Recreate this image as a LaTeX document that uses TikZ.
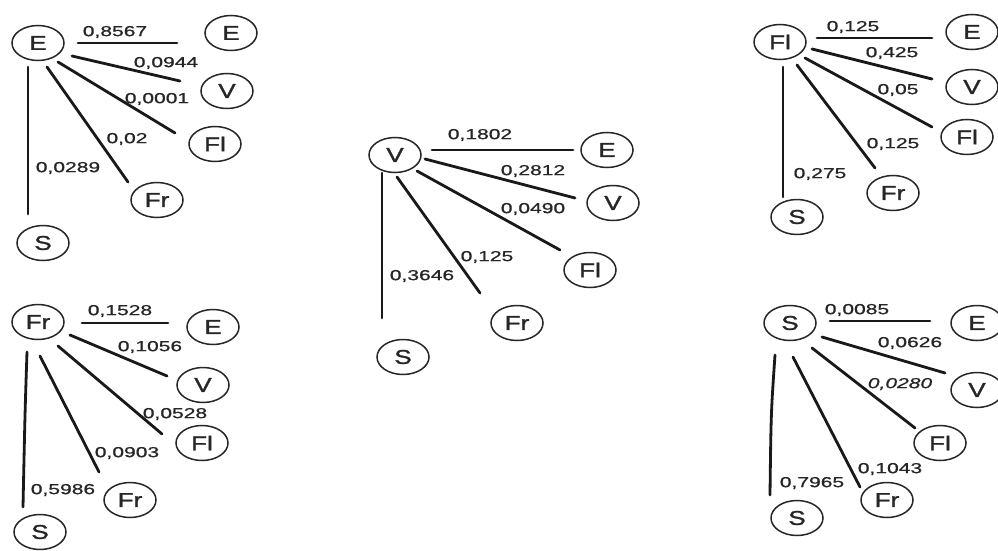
\documentclass[tikz,border=0pt]{standalone}
\usepackage{graphicx}
\usepackage{fontspec}
\setmainfont{Liberation Sans}
\newfontfamily\letfont[FakeBold=1.2]{Liberation Sans}
\newfontfamily\numfont[FakeBold=0.7]{Liberation Sans}
\usetikzlibrary{shapes.geometric}
\newcommand{\wlet}[1]{\scalebox{1.3}[1]{#1}}
\newcommand{\wnum}[1]{\scalebox{1.45}[1]{#1}}
\tikzset{
  st/.style={ellipse, draw=black!85, line width=1.5pt, minimum width=52pt, minimum height=35pt, inner sep=0pt, font=\letfont\fontsize{20}{20}\selectfont, text=black!85},
  conn/.style={draw=black!90, line width=2.8pt, line cap=round},
  lab/.style={inner sep=0pt, font=\numfont\fontsize{14.5}{14.5}\selectfont, text=black!85},
}
\begin{document}
\begin{tikzpicture}[x=1pt,y=-1pt]
\useasboundingbox (0,0) rectangle (998,551);
\fill[white] (0,0) rectangle (998,551);

% ---------- cluster 1 : E ----------
\node[st] (e1)   at (38,43)   {\wlet{E}};
\node[st] (e1E)  at (231,33)  {\wlet{E}};
\node[st] (e1V)  at (227,91)  {\wlet{V}};
\node[st] (e1Fl) at (215,144) {\wlet{Fl}};
\node[st] (e1Fr) at (157,200) {\wlet{Fr}};
\node[st] (e1S)  at (43,243)  {\wlet{S}};
\draw[conn] ([shift={(40,0)}]e1.center)   -- ([shift={(-54,10)}]e1E.center);
\draw[conn] ([shift={(34,13)}]e1.center)  -- ([shift={(-47,-10)}]e1V.center);
\draw[conn] ([shift={(20,19)}]e1.center)  -- ([shift={(-40,-11)}]e1Fl.center);
\draw[conn] ([shift={(9,24)}]e1.center)   -- ([shift={(-29,-18)}]e1Fr.center);
\draw[conn] ([shift={(-10,24)}]e1.center) -- ([shift={(-15,-29)}]e1S.center);
\node[lab] (l1a) at (115,32)  {\wnum{0,8567}};
\node[lab] (l1b) at (166,63)  {\wnum{0,0944}};
\node[lab] (l1c) at (157,99)  {\wnum{0,0001}};
\node[lab] (l1d) at (127,139) {\wnum{0,02}};
\node[lab] (l1e) at (68,168)  {\wnum{0,0289}};

% ---------- cluster 2 : Fr ----------
\node[st] (f2)   at (38,322)  {\wlet{Fr}};
\node[st] (f2E)  at (213,327) {\wlet{E}};
\node[st] (f2V)  at (203,385) {\wlet{V}};
\node[st] (f2Fl) at (202,443) {\wlet{Fl}};
\node[st] (f2Fr) at (130,500) {\wlet{Fr}};
\node[st] (f2S)  at (40,532)  {\wlet{S}};
\draw[conn] ([shift={(44,1)}]f2.center)   -- ([shift={(-45,-4)}]f2E.center);
\draw[conn] ([shift={(32,13)}]f2.center)  -- ([shift={(-36,-9)}]f2V.center);
\draw[conn] ([shift={(20,24)}]f2.center)  -- ([shift={(-40,-9)}]f2Fl.center);
\draw[conn] ([shift={(2,34)}]f2.center)   -- ([shift={(-31,-28)}]f2Fr.center);
\draw[conn] ([shift={(-11,30)}]f2.center) .. controls ([shift={(-13,90)}]f2.center) .. ([shift={(-17,-25)}]f2S.center);
\node[lab] (l2a) at (120,311) {\wnum{0,1528}};
\node[lab] (l2b) at (150,347) {\wnum{0,1056}};
\node[lab] (l2c) at (175,414) {\wnum{0,0528}};
\node[lab] (l2d) at (127,453) {\wnum{0,0903}};
\node[lab] (l2e) at (63,490)  {\wnum{0,5986}};

% ---------- cluster 3 : V ----------
\node[st] (v3)   at (395,155) {\wlet{V}};
\node[st] (v3E)  at (607,150) {\wlet{E}};
\node[st] (v3V)  at (613,203) {\wlet{V}};
\node[st] (v3Fl) at (590,270) {\wlet{Fl}};
\node[st] (v3Fr) at (517,323) {\wlet{Fr}};
\node[st] (v3S)  at (403,357) {\wlet{S}};
\draw[conn] ([shift={(37,-5)}]v3.center)  -- ([shift={(-34,0)}]v3E.center);
\draw[conn] ([shift={(30,4)}]v3.center)   -- ([shift={(-38,-5)}]v3V.center);
\draw[conn] ([shift={(22,16)}]v3.center)  -- ([shift={(-30,-20)}]v3Fl.center);
\draw[conn] ([shift={(2,22)}]v3.center)   -- ([shift={(-37,-30)}]v3Fr.center);
\draw[conn] ([shift={(-13,18)}]v3.center) -- ([shift={(-21,-39)}]v3S.center);
\node[lab] (l3a) at (480,135) {\wnum{0,1802}};
\node[lab] (l3b) at (533,171) {\wnum{0,2812}};
\node[lab] (l3c) at (533,209) {\wnum{0,0490}};
\node[lab] (l3d) at (487,257) {\wnum{0,125}};
\node[lab] (l3e) at (422,276) {\wnum{0,3646}};

% ---------- cluster 4 : Fl ----------
\node[st] (l4)   at (780,42)  {\wlet{Fl}};
\node[st] (l4E)  at (972,32)  {\wlet{E}};
\node[st] (l4V)  at (972,87)  {\wlet{V}};
\node[st] (l4Fl) at (967,137) {\wlet{Fl}};
\node[st] (l4Fr) at (893,193) {\wlet{Fr}};
\node[st] (l4S)  at (797,217) {\wlet{S}};
\draw[conn] ([shift={(37,-4)}]l4.center) -- ([shift={(-40,6)}]l4E.center);
\draw[conn] ([shift={(32,7)}]l4.center)  -- ([shift={(-40,-8)}]l4V.center);
\draw[conn] ([shift={(25,16)}]l4.center) -- ([shift={(-35,-10)}]l4Fl.center);
\draw[conn] ([shift={(17,23)}]l4.center) -- ([shift={(-18,-25)}]l4Fr.center);
\draw[conn] ([shift={(3,25)}]l4.center)  -- ([shift={(-14,-20)}]l4S.center);
\node[lab] (l4a) at (853,27)  {\wnum{0,125}};
\node[lab] (l4b) at (892,53)  {\wnum{0,425}};
\node[lab] (l4c) at (898,90)  {\wnum{0,05}};
\node[lab] (l4d) at (893,144) {\wnum{0,125}};
\node[lab] (l4e) at (820,174) {\wnum{0,275}};

% ---------- cluster 5 : S ----------
\node[st] (s5)   at (790,323) {\wlet{S}};
\node[st] (s5E)  at (977,323) {\wlet{E}};
\node[st] (s5V)  at (977,390) {\wlet{V}};
\node[st] (s5Fl) at (940,443) {\wlet{Fl}};
\node[st] (s5Fr) at (887,500) {\wlet{Fr}};
\node[st] (s5S)  at (797,518) {\wlet{S}};
\draw[conn] ([shift={(40,-2)}]s5.center)  -- ([shift={(-47,-2)}]s5E.center);
\draw[conn] ([shift={(32,14)}]s5.center)  -- ([shift={(-32,-17)}]s5V.center);
\draw[conn] ([shift={(22,25)}]s5.center)  -- ([shift={(-25,-15)}]s5Fl.center);
\draw[conn] ([shift={(3,34)}]s5.center)   -- ([shift={(-27,-13)}]s5Fr.center);
\draw[conn] ([shift={(-15,32)}]s5.center) .. controls ([shift={(-19,90)}]s5.center) .. ([shift={(-27,-23)}]s5S.center);
\node[lab] (l5a) at (857,310) {\wnum{0,0085}};
\node[lab] (l5b) at (910,343) {\wnum{0,0626}};
\node[lab] (l5c) at (900,384) {\itshape\wnum{0,0280}};
\node[lab] (l5d) at (890,469) {\wnum{0,1043}};
\node[lab] (l5e) at (812,483) {\wnum{0,7965}};
\end{tikzpicture}
\end{document}
